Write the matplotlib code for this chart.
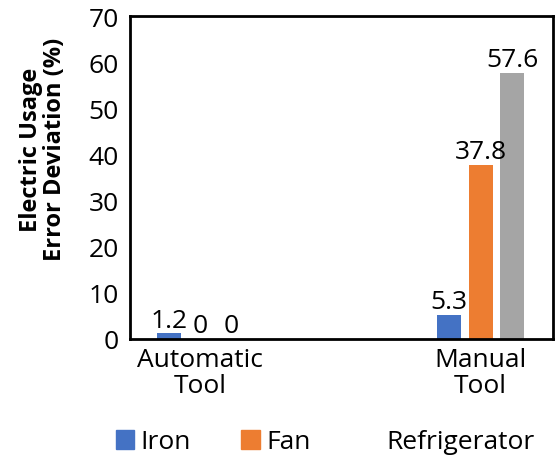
import matplotlib
matplotlib.use("Agg")
import matplotlib.pyplot as plt
import numpy as np
from matplotlib.patches import Patch

categories = ["Automatic\nTool", "Manual\nTool"]
series_names = ["Iron", "Fan", "Refrigerator"]
iron = [1.2, 5.3]
fan = [0, 37.8]
refrigerator = [0, 57.6]
colors = ["#4472C4", "#ED7D31", "#A5A5A5"]

plt.rcParams['font.family'] = ['Open Sans', 'DejaVu Sans']
FS = 19

fig = plt.figure(figsize=(5.6, 4.64), dpi=100)
ax = fig.add_axes([130/560, 1-340/464, 423/560, 323/464])

x = np.arange(len(categories))
w = 0.085
step = 0.112
data = [iron, fan, refrigerator]
for i, (vals, c) in enumerate(zip(data, colors)):
    xs = x + (i - 1) * step
    ax.bar(xs, vals, width=w, color=c, zorder=2)
    for xi, v in zip(xs, vals):
        ax.text(xi, v + 0.2, f"{v:g}", ha='center', va='bottom', fontsize=FS, color='black')

ax.set_xlim(-0.25, 1.258)
ax.set_ylim(0, 70)
ax.set_yticks(range(0, 71, 10))
ax.set_xticks(x)
ax.set_xticklabels(categories, fontsize=FS, linespacing=1.05)
ax.tick_params(axis='both', length=0, labelsize=FS)
ax.tick_params(axis='y', pad=8)
ax.tick_params(axis='x', pad=6)
for s in ax.spines.values():
    s.set_linewidth(2)
    s.set_color('black')
ax.set_ylabel("Electric Usage\nError Deviation (%)", fontsize=17, fontweight='bold', linespacing=1.0)
ax.yaxis.set_label_coords(-0.148, 0.59)

handles = [Patch(color=colors[0]), Patch(color=colors[1]), Patch(facecolor='none', edgecolor='none')]
fig.legend(handles, series_names, loc='center', bbox_to_anchor=(325/560, 1-443/464), ncol=3,
           frameon=False, fontsize=FS, handlelength=0.7, handleheight=0.7, handletextpad=0.25,
           columnspacing=1.9)

fig.savefig("out.png", dpi=100)
